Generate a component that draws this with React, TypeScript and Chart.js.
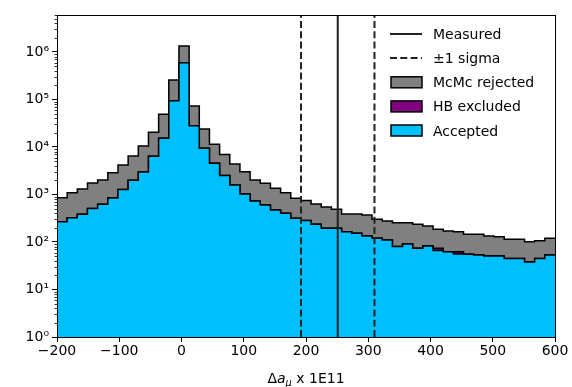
import React, { useEffect, useRef } from 'react';
import { Chart, registerables } from 'chart.js';

Chart.register(...registerables);

// Histogram bin range (49 equal bins)
const binStart = -200;
const binEnd = 600;

// Counts per bin
const mcmcRejected = [
  857, 1091, 1306, 1746, 2019, 2876, 4180, 6466, 10500, 20400,
  48800, 257500, 1337000, 73000, 23900, 11400, 6950, 4385, 3020, 2019,
  1721, 1351, 1091, 832, 748, 631, 545, 488, 388, 388,
  370, 301, 277, 255, 255, 236, 217, 185, 170, 165,
  145, 145, 134, 129, 114, 114, 101, 106, 120,
];
const hbExcluded = [
  267, 325, 383, 507, 622, 844, 1274, 1990, 2978, 6370,
  15240, 94400, 595000, 28100, 9390, 4540, 2512, 1585, 1025, 730,
  601, 472, 402, 315, 284, 236, 194, 194, 165, 152,
  134, 120, 110, 80, 91, 74, 82, 74, 62, 62,
  55, 53, 51, 51, 45, 45, 38, 45, 53,
];
const accepted = [
  267, 325, 383, 507, 622, 844, 1274, 1990, 2978, 6370,
  15240, 94400, 595000, 28100, 9390, 4540, 2512, 1585, 1025, 730,
  601, 472, 402, 315, 284, 236, 194, 194, 165, 152,
  134, 120, 110, 80, 91, 74, 82, 66, 62, 56,
  55, 53, 51, 51, 45, 45, 38, 45, 53,
];

const measured = 251;
const sigma = 59;

const xMin = -200;
const xMax = 600;
const xStep = 100;
const yMin = 1;
const yMax = 6e6;

const legendLabels = ['Measured', '\u00b11 sigma', 'McMc rejected', 'HB excluded', 'Accepted'];

const FONT = '"DejaVu Sans", sans-serif';
const FS = 14;
const SUP: Record<string, string> = { '0': '\u2070', '1': '\u00b9', '2': '\u00b2', '3': '\u00b3', '4': '\u2074', '5': '\u2075', '6': '\u2076', '7': '\u2077', '8': '\u2078', '9': '\u2079' };

const GREY = '#808080';
const PURPLE = '#800080';
const BLUE = '#00bfff';
const LINE = '#222222';
const DASH = [7, 3.3];

function stepPoints(values: number[]) {
  const n = values.length;
  const w = (binEnd - binStart) / n;
  const pts = values.map((v, i) => ({ x: binStart + i * w, y: v }));
  pts.push({ x: binEnd, y: values[n - 1] });
  return pts;
}

function isPow10(v: number) {
  const l = Math.log10(v);
  return Math.abs(l - Math.round(l)) < 1e-9;
}

const decorPlugin = {
  id: 'decor',
  afterDatasetsDraw(chart: any) {
    const { ctx, chartArea: a, scales } = chart;
    const ys = scales.y;
    ctx.save();
    // frame (spines)
    ctx.strokeStyle = '#000';
    ctx.lineWidth = 1;
    ctx.setLineDash([]);
    ctx.strokeRect(a.left + 0.5, a.top + 0.5, a.right - a.left, a.bottom - a.top);

    // minor log ticks
    ctx.lineWidth = 0.8;
    for (let e = 0; e <= 7; e++) {
      for (let m = 2; m <= 9; m++) {
        const v = m * Math.pow(10, e);
        if (v > yMax) continue;
        const py = Math.round(ys.getPixelForValue(v)) + 0.5;
        ctx.beginPath();
        ctx.moveTo(a.left + 0.5, py);
        ctx.lineTo(a.left - 2.5, py);
        ctx.stroke();
      }
    }

    // legend
    const rowY = [34, 58.1, 82.3, 106.4, 130.5];
    const hx0 = 390;
    const hx1 = 422;
    const tx = 433;
    ctx.font = `${FS}px ${FONT}`;
    ctx.textBaseline = 'alphabetic';
    ctx.textAlign = 'left';
    ctx.fillStyle = '#000';
    legendLabels.forEach((lab, i) => {
      const cy = rowY[i];
      if (i < 2) {
        ctx.strokeStyle = LINE;
        ctx.lineWidth = 2;
        ctx.setLineDash(i === 1 ? DASH : []);
        ctx.beginPath();
        ctx.moveTo(hx0, cy);
        ctx.lineTo(hx1, cy);
        ctx.stroke();
        ctx.setLineDash([]);
      } else {
        const col = i === 2 ? GREY : i === 3 ? PURPLE : BLUE;
        ctx.fillStyle = col;
        ctx.fillRect(hx0 + 1, cy - 5.5, hx1 - hx0 - 1, 11);
        ctx.strokeStyle = '#000';
        ctx.lineWidth = 1.5;
        ctx.strokeRect(hx0 + 1, cy - 5.5, hx1 - hx0 - 1, 11);
      }
      ctx.fillStyle = '#000';
      ctx.fillText(lab, tx, cy + 5);
    });

    // x-axis title: Δa_μ x 1E11
    const cx = (a.left + a.right) / 2;
    const by = 382.5;
    const parts = [
      { t: '\u0394', f: `${FS}px ${FONT}`, dy: 0 },
      { t: 'a', f: `italic ${FS}px ${FONT}`, dy: 0 },
      { t: '\u03bc', f: `italic ${FS * 0.7}px ${FONT}`, dy: 3 },
      { t: ' x 1E11', f: `${FS}px ${FONT}`, dy: 0 },
    ];
    let total = 0;
    const widths = parts.map((p) => {
      ctx.font = p.f;
      const w = ctx.measureText(p.t).width;
      total += w;
      return w;
    });
    let x = cx - total / 2;
    parts.forEach((p, i) => {
      ctx.font = p.f;
      ctx.fillText(p.t, x, by + p.dy);
      x += widths[i];
    });
    ctx.restore();
  },
};

export default function App() {
  const ref = useRef<HTMLCanvasElement | null>(null);
  useEffect(() => {
    document.body.style.margin = '0';
    const canvas = ref.current;
    if (!canvas) return;
    Chart.defaults.font.family = FONT;
    Chart.defaults.font.size = FS;
    Chart.defaults.color = '#000';

    const vline = (xv: number, dashed: boolean) => ({
      data: [
        { x: xv, y: yMin },
        { x: xv, y: yMax },
      ],
      borderColor: LINE,
      borderWidth: 2,
      borderDash: dashed ? DASH : [],
      pointRadius: 0,
      fill: false,
    });
    const hist = (values: number[], color: string) => ({
      data: stepPoints(values),
      borderColor: '#000',
      borderWidth: 1.5,
      backgroundColor: color,
      fill: 'start',
      stepped: true,
      pointRadius: 0,
    });

    const chart = new Chart(canvas, {
      type: 'line',
      data: {
        datasets: [
          vline(measured, false),
          vline(measured - sigma, true),
          vline(measured + sigma, true),
          hist(accepted, BLUE),
          hist(hbExcluded, PURPLE),
          hist(mcmcRejected, GREY),
        ] as any,
      },
      options: {
        responsive: false,
        animation: false,
        devicePixelRatio: 1,
        layout: { padding: { left: 0, top: 15, right: 17, bottom: 0 } },
        plugins: {
          legend: { display: false },
          tooltip: { enabled: false },
        },
        scales: {
          x: {
            type: 'linear',
            min: xMin,
            max: xMax,
            afterFit: (s: any) => {
              s.height = 50;
            },
            ticks: {
              stepSize: xStep,
              padding: 1,
              maxRotation: 0,
              callback: (v: any) => String(v).replace('-', '\u2212'),
            },
            grid: {
              drawOnChartArea: false,
              drawTicks: true,
              tickLength: 5,
              tickColor: '#000',
              tickWidth: 1,
            },
            border: { display: true, color: '#000', width: 1 },
          },
          y: {
            type: 'logarithmic',
            min: yMin,
            max: yMax,
            afterFit: (s: any) => {
              s.width = 57;
            },
            ticks: {
              autoSkip: false,
              padding: 3,
              callback: (v: any) => {
                const n = Number(v);
                if (!isPow10(n)) return '';
                const e = Math.round(Math.log10(n));
                return '10' + String(e).split('').map((c) => SUP[c]).join('');
              },
            },
            grid: {
              drawOnChartArea: false,
              drawTicks: true,
              tickLength: 5,
              tickWidth: 1,
              tickColor: (c: any) => (c.tick && isPow10(c.tick.value) ? '#000' : 'rgba(0,0,0,0)'),
            },
            border: { display: true, color: '#000', width: 1 },
          },
        },
      },
      plugins: [decorPlugin],
    } as any);
    return () => chart.destroy();
  }, []);
  return (
    <div style={{ position: 'absolute', left: 0, top: 0, width: 572, height: 387, background: '#fff' }}>
      <canvas ref={ref} width={572} height={387} style={{ width: 572, height: 387, display: 'block' }} />
    </div>
  );
}
